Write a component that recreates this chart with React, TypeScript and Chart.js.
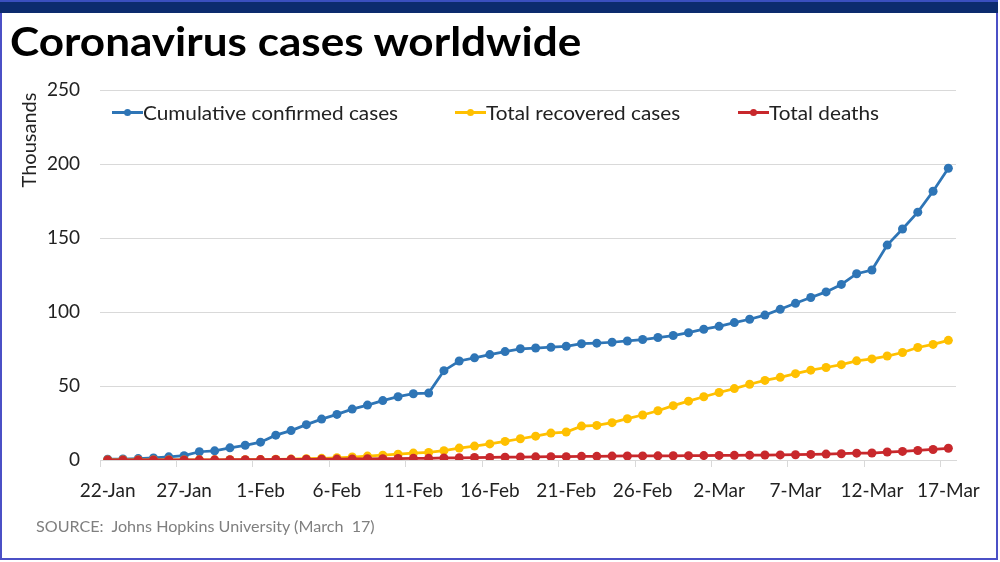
import React, { useEffect, useRef } from "react";
import { Chart, registerables } from "chart.js";

Chart.register(...registerables);

const dates: string[] = [
  "22-Jan", "23-Jan", "24-Jan", "25-Jan", "26-Jan", "27-Jan", "28-Jan", "29-Jan", "30-Jan", "31-Jan",
  "1-Feb", "2-Feb", "3-Feb", "4-Feb", "5-Feb", "6-Feb", "7-Feb", "8-Feb", "9-Feb", "10-Feb",
  "11-Feb", "12-Feb", "13-Feb", "14-Feb", "15-Feb", "16-Feb", "17-Feb", "18-Feb", "19-Feb", "20-Feb",
  "21-Feb", "22-Feb", "23-Feb", "24-Feb", "25-Feb", "26-Feb", "27-Feb", "28-Feb", "29-Feb",
  "1-Mar", "2-Mar", "3-Mar", "4-Mar", "5-Mar", "6-Mar", "7-Mar", "8-Mar", "9-Mar", "10-Mar",
  "11-Mar", "12-Mar", "13-Mar", "14-Mar", "15-Mar", "16-Mar", "17-Mar",
];

// Thousands
const confirmed: number[] = [
  0.56, 0.65, 0.94, 1.43, 2.12, 2.93, 5.58, 6.17, 8.23, 9.93,
  12.04, 16.79, 19.88, 23.89, 27.64, 30.82, 34.39, 37.12, 40.15, 42.76,
  44.8, 45.22, 60.37, 66.89, 69.03, 71.22, 73.26, 75.14, 75.64, 76.2,
  76.82, 78.57, 78.96, 79.56, 80.41, 81.39, 82.75, 84.11, 86.01,
  88.37, 90.31, 92.84, 95.12, 97.89, 101.8, 105.85, 109.82, 113.59, 118.62,
  125.88, 128.35, 145.21, 156.1, 167.45, 181.57, 197.1,
];

const recovered: number[] = [
  0.03, 0.03, 0.04, 0.04, 0.05, 0.06, 0.11, 0.13, 0.14, 0.22,
  0.28, 0.47, 0.62, 0.85, 1.12, 1.49, 2.01, 2.62, 3.24, 3.95,
  4.68, 5.15, 6.3, 8.06, 9.4, 10.87, 12.58, 14.35, 16.12, 18.18,
  18.89, 22.89, 23.39, 25.23, 27.91, 30.38, 33.28, 36.71, 39.78,
  42.72, 45.6, 48.23, 51.17, 53.8, 55.87, 58.36, 60.69, 62.49, 64.4,
  67.0, 68.32, 70.25, 72.62, 76.03, 78.09, 80.84,
];

const deaths: number[] = [
  0.02, 0.02, 0.03, 0.04, 0.06, 0.08, 0.13, 0.13, 0.17, 0.21,
  0.26, 0.36, 0.43, 0.49, 0.56, 0.63, 0.72, 0.81, 0.91, 1.01,
  1.11, 1.12, 1.37, 1.52, 1.67, 1.77, 1.87, 2.01, 2.12, 2.25,
  2.25, 2.46, 2.47, 2.63, 2.71, 2.77, 2.81, 2.87, 2.94,
  3.0, 3.09, 3.16, 3.25, 3.35, 3.46, 3.56, 3.8, 4.0, 4.26,
  4.62, 4.72, 5.4, 5.82, 6.44, 7.13, 7.91,
];

const yTicks: number[] = [0, 50, 100, 150, 200, 250];

const seriesNames: string[] = ["Cumulative confirmed cases", "Total recovered cases", "Total deaths"];
const seriesColors: string[] = ["#2e75b6", "#ffc000", "#c8282c"];

const FONT = "Lato, 'Open Sans', sans-serif";

export default function App() {
  const canvasRef = useRef<HTMLCanvasElement | null>(null);

  useEffect(() => {
    const canvas = canvasRef.current;
    if (!canvas) return;
    const seriesData = [confirmed, recovered, deaths];
    const chart = new Chart(canvas, {
      type: "line",
      data: {
        labels: dates,
        datasets: seriesNames.map((name, i) => ({
          label: name,
          data: seriesData[i],
          borderColor: seriesColors[i],
          backgroundColor: seriesColors[i],
          pointBackgroundColor: seriesColors[i],
          pointBorderColor: seriesColors[i],
          pointRadius: 4.5,
          pointBorderWidth: 0,
          borderWidth: 2.75,
          tension: 0,
          order: 3 - i,
        })),
      },
      options: {
        animation: false,
        responsive: false,
        maintainAspectRatio: false,
        layout: { padding: { top: 90, right: 44, left: 0, bottom: 0 } },
        plugins: {
          legend: { display: false },
          tooltip: { enabled: false },
          title: { display: false },
        },
        scales: {
          x: {
            type: "category",
            offset: true,
            afterFit: (scale: any) => {
              scale.height = 102;
            },
            border: { display: true, color: "#d9d9d9", width: 1 },
            grid: {
              offset: true,
              drawOnChartArea: false,
              drawTicks: true,
              tickLength: 7,
              color: (ctx: any) => (ctx.index % 5 === 0 ? "#d9d9d9" : "rgba(0,0,0,0)"),
            },
            ticks: {
              autoSkip: false,
              maxRotation: 0,
              minRotation: 0,
              padding: 12,
              color: "#222222",
              font: { family: FONT, size: 19 },
              callback: function (this: any, value: any, index: number) {
                return index % 5 === 0 ? dates[index] : "";
              },
            },
          },
          y: {
            min: 0,
            max: 250,
            afterFit: (scale: any) => {
              scale.width = 100;
            },
            afterBuildTicks: (scale: any) => {
              scale.ticks = yTicks.map((v) => ({ value: v }));
            },
            border: { display: false },
            grid: {
              color: "#d9d9d9",
              lineWidth: 1,
              drawTicks: false,
            },
            ticks: {
              padding: 20,
              color: "#222222",
              font: { family: FONT, size: 19 },
            },
          },
        },
      },
    });
    return () => chart.destroy();
  }, []);

  const legendLefts = [112, 455, 738];

  return (
    <div
      style={{
        position: "fixed",
        left: 0,
        top: 0,
        width: 1000,
        height: 562,
        background: "#ffffff",
        overflow: "hidden",
        fontFamily: FONT,
      }}
    >
      <canvas
        ref={canvasRef}
        width={1000}
        height={562}
        style={{ position: "absolute", left: 0, top: 0, width: 1000, height: 562 }}
      />
      {/* frame */}
      <div
        style={{
          position: "absolute",
          left: 0,
          top: 0,
          width: 994,
          height: 556,
          border: "2px solid #4b50c6",
          pointerEvents: "none",
        }}
      />
      <div
        style={{
          position: "absolute",
          left: 0,
          top: 0,
          width: 998,
          height: 11,
          background: "#0c2b6e",
          borderTop: "2px solid #3a4fbf",
        }}
      />
      {/* title */}
      <div
        style={{
          position: "absolute",
          left: 10,
          top: 16,
          fontSize: 41,
          lineHeight: 1.2,
          fontWeight: 700,
          color: "#000000",
          whiteSpace: "nowrap",
          transform: "scaleX(1.075)",
          transformOrigin: "left center",
        }}
      >
        Coronavirus cases worldwide
      </div>
      {/* y title */}
      <div
        style={{
          position: "absolute",
          left: 28,
          top: 140,
          transform: "translate(-50%, -50%) rotate(-90deg)",
          fontSize: 20,
          lineHeight: 1,
          color: "#222222",
          whiteSpace: "nowrap",
        }}
      >
        Thousands
      </div>
      {/* legend */}
      {seriesNames.map((name, i) => (
        <div
          key={name}
          style={{
            position: "absolute",
            left: legendLefts[i],
            top: 100,
            height: 24,
            display: "flex",
            alignItems: "center",
            whiteSpace: "nowrap",
            fontSize: 19.5,
            color: "#222222",
          }}
        >
          <div style={{ position: "relative", width: 31, height: 24, flex: "none" }}>
            <div
              style={{
                position: "absolute",
                left: 0,
                top: 11,
                width: 31,
                height: 2.5,
                background: seriesColors[i],
              }}
            />
            <div
              style={{
                position: "absolute",
                left: 12,
                top: 8.75,
                width: 7,
                height: 7,
                borderRadius: "50%",
                background: seriesColors[i],
              }}
            />
          </div>
          <span style={{ display: "inline-block", transform: "scaleX(1.065)", transformOrigin: "left center" }}>
            {name}
          </span>
        </div>
      ))}
      {/* source */}
      <div
        style={{
          position: "absolute",
          left: 36,
          top: 517,
          fontSize: 15.5,
          color: "#7f7f7f",
          whiteSpace: "pre",
          transform: "scaleX(1.04)",
          transformOrigin: "left center",
        }}
      >
        {"SOURCE:  Johns Hopkins University (March  17)"}
      </div>
    </div>
  );
}
